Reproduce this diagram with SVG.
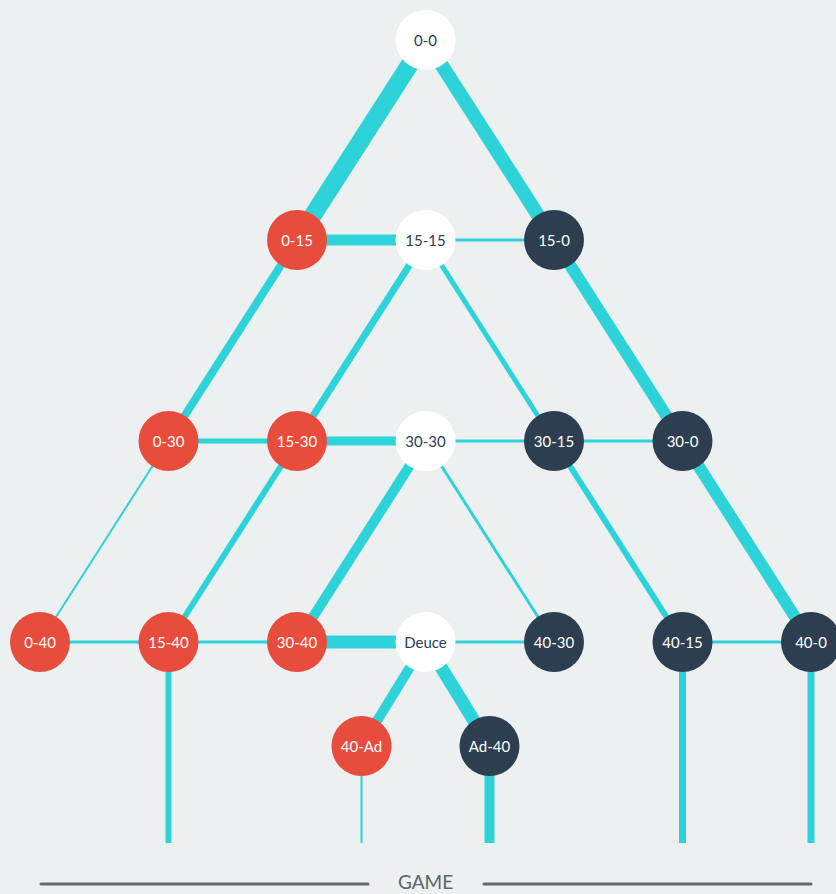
<svg xmlns="http://www.w3.org/2000/svg" width="836" height="894" viewBox="0 0 836 894">
<style>
.bg{fill:#ECF0F1}
.e{stroke:#2ED3DA;fill:none;stroke-linecap:butt}
.n circle{stroke:none}
.red circle{fill:#E74C3C}
.dark circle{fill:#2C3E50}
.white circle{fill:#FFFFFF}
text{font-family:Lato,"Open Sans","Liberation Sans",sans-serif;font-size:15px;text-anchor:middle;dominant-baseline:central}
.red text,.dark text{fill:#FFFFFF}
.white text{fill:#2C3E50}
.rule{stroke:#666A6D;stroke-width:3;stroke-linecap:round}
.game{fill:#5E6468;font-size:19px;dominant-baseline:alphabetic}
</style>
<rect class="bg" x="0" y="0" width="836" height="894"/>
<g id="connectors">
<line class="e" x1="425.5" y1="40" x2="297" y2="240" stroke-width="18"/>
<line class="e" x1="425.5" y1="40" x2="554" y2="240" stroke-width="14"/>
<line class="e" x1="297" y1="240" x2="425.5" y2="240" stroke-width="11"/>
<line class="e" x1="425.5" y1="240" x2="554" y2="240" stroke-width="3"/>
<line class="e" x1="297" y1="240" x2="168.5" y2="441" stroke-width="8"/>
<line class="e" x1="425.5" y1="240" x2="297" y2="441" stroke-width="7"/>
<line class="e" x1="425.5" y1="240" x2="554" y2="441" stroke-width="5"/>
<line class="e" x1="554" y1="240" x2="682.5" y2="441" stroke-width="12"/>
<line class="e" x1="168.5" y1="441" x2="297" y2="441" stroke-width="5"/>
<line class="e" x1="297" y1="441" x2="425.5" y2="441" stroke-width="9"/>
<line class="e" x1="425.5" y1="441" x2="554" y2="441" stroke-width="3"/>
<line class="e" x1="554" y1="441" x2="682.5" y2="441" stroke-width="3"/>
<line class="e" x1="168.5" y1="441" x2="40" y2="642" stroke-width="2"/>
<line class="e" x1="297" y1="441" x2="168.5" y2="642" stroke-width="6"/>
<line class="e" x1="425.5" y1="441" x2="297" y2="642" stroke-width="10"/>
<line class="e" x1="425.5" y1="441" x2="554" y2="642" stroke-width="3"/>
<line class="e" x1="554" y1="441" x2="682.5" y2="642" stroke-width="6"/>
<line class="e" x1="682.5" y1="441" x2="811" y2="642" stroke-width="12"/>
<line class="e" x1="40" y1="642" x2="168.5" y2="642" stroke-width="3"/>
<line class="e" x1="168.5" y1="642" x2="297" y2="642" stroke-width="3"/>
<line class="e" x1="297" y1="642" x2="425.5" y2="642" stroke-width="13"/>
<line class="e" x1="425.5" y1="642" x2="554" y2="642" stroke-width="3"/>
<line class="e" x1="682.5" y1="642" x2="811" y2="642" stroke-width="3"/>
<line class="e" x1="425.5" y1="642" x2="361.5" y2="746" stroke-width="10"/>
<line class="e" x1="425.5" y1="642" x2="489.5" y2="746" stroke-width="13"/>
<line class="e" x1="168.5" y1="642" x2="168.5" y2="843" stroke-width="6"/>
<line class="e" x1="361.5" y1="746" x2="361.5" y2="843" stroke-width="2"/>
<line class="e" x1="489.5" y1="746" x2="489.5" y2="843" stroke-width="10"/>
<line class="e" x1="682.5" y1="642" x2="682.5" y2="843" stroke-width="7"/>
<line class="e" x1="811" y1="642" x2="811" y2="843" stroke-width="7"/>
</g>
<g id="n-0-0" class="n white"><circle cx="425.5" cy="40" r="30"/><text x="425.5" y="40">0-0</text></g>
<g id="n-0-15" class="n red"><circle cx="297" cy="240" r="30"/><text x="297" y="240">0-15</text></g>
<g id="n-15-15" class="n white"><circle cx="425.5" cy="240" r="30"/><text x="425.5" y="240">15-15</text></g>
<g id="n-15-0" class="n dark"><circle cx="554" cy="240" r="30"/><text x="554" y="240">15-0</text></g>
<g id="n-0-30" class="n red"><circle cx="168.5" cy="441" r="30"/><text x="168.5" y="441">0-30</text></g>
<g id="n-15-30" class="n red"><circle cx="297" cy="441" r="30"/><text x="297" y="441">15-30</text></g>
<g id="n-30-30" class="n white"><circle cx="425.5" cy="441" r="30"/><text x="425.5" y="441">30-30</text></g>
<g id="n-30-15" class="n dark"><circle cx="554" cy="441" r="30"/><text x="554" y="441">30-15</text></g>
<g id="n-30-0" class="n dark"><circle cx="682.5" cy="441" r="30"/><text x="682.5" y="441">30-0</text></g>
<g id="n-0-40" class="n red"><circle cx="40" cy="642" r="30"/><text x="40" y="642">0-40</text></g>
<g id="n-15-40" class="n red"><circle cx="168.5" cy="642" r="30"/><text x="168.5" y="642">15-40</text></g>
<g id="n-30-40" class="n red"><circle cx="297" cy="642" r="30"/><text x="297" y="642">30-40</text></g>
<g id="n-deuce" class="n white"><circle cx="425.5" cy="642" r="30"/><text x="425.5" y="642">Deuce</text></g>
<g id="n-40-30" class="n dark"><circle cx="554" cy="642" r="30"/><text x="554" y="642">40-30</text></g>
<g id="n-40-15" class="n dark"><circle cx="682.5" cy="642" r="30"/><text x="682.5" y="642">40-15</text></g>
<g id="n-40-0" class="n dark"><circle cx="811" cy="642" r="30"/><text x="811" y="642">40-0</text></g>
<g id="n-40-ad" class="n red"><circle cx="361.5" cy="746" r="30"/><text x="361.5" y="746">40-Ad</text></g>
<g id="n-ad-40" class="n dark"><circle cx="489.5" cy="746" r="30"/><text x="489.5" y="746">Ad-40</text></g>
<g id="footer">
<line class="rule" x1="41" y1="884" x2="368" y2="884"/>
<line class="rule" x1="484" y1="884" x2="811" y2="884"/>
<text class="game" x="425.5" y="889">GAME</text>
</g>
</svg>
